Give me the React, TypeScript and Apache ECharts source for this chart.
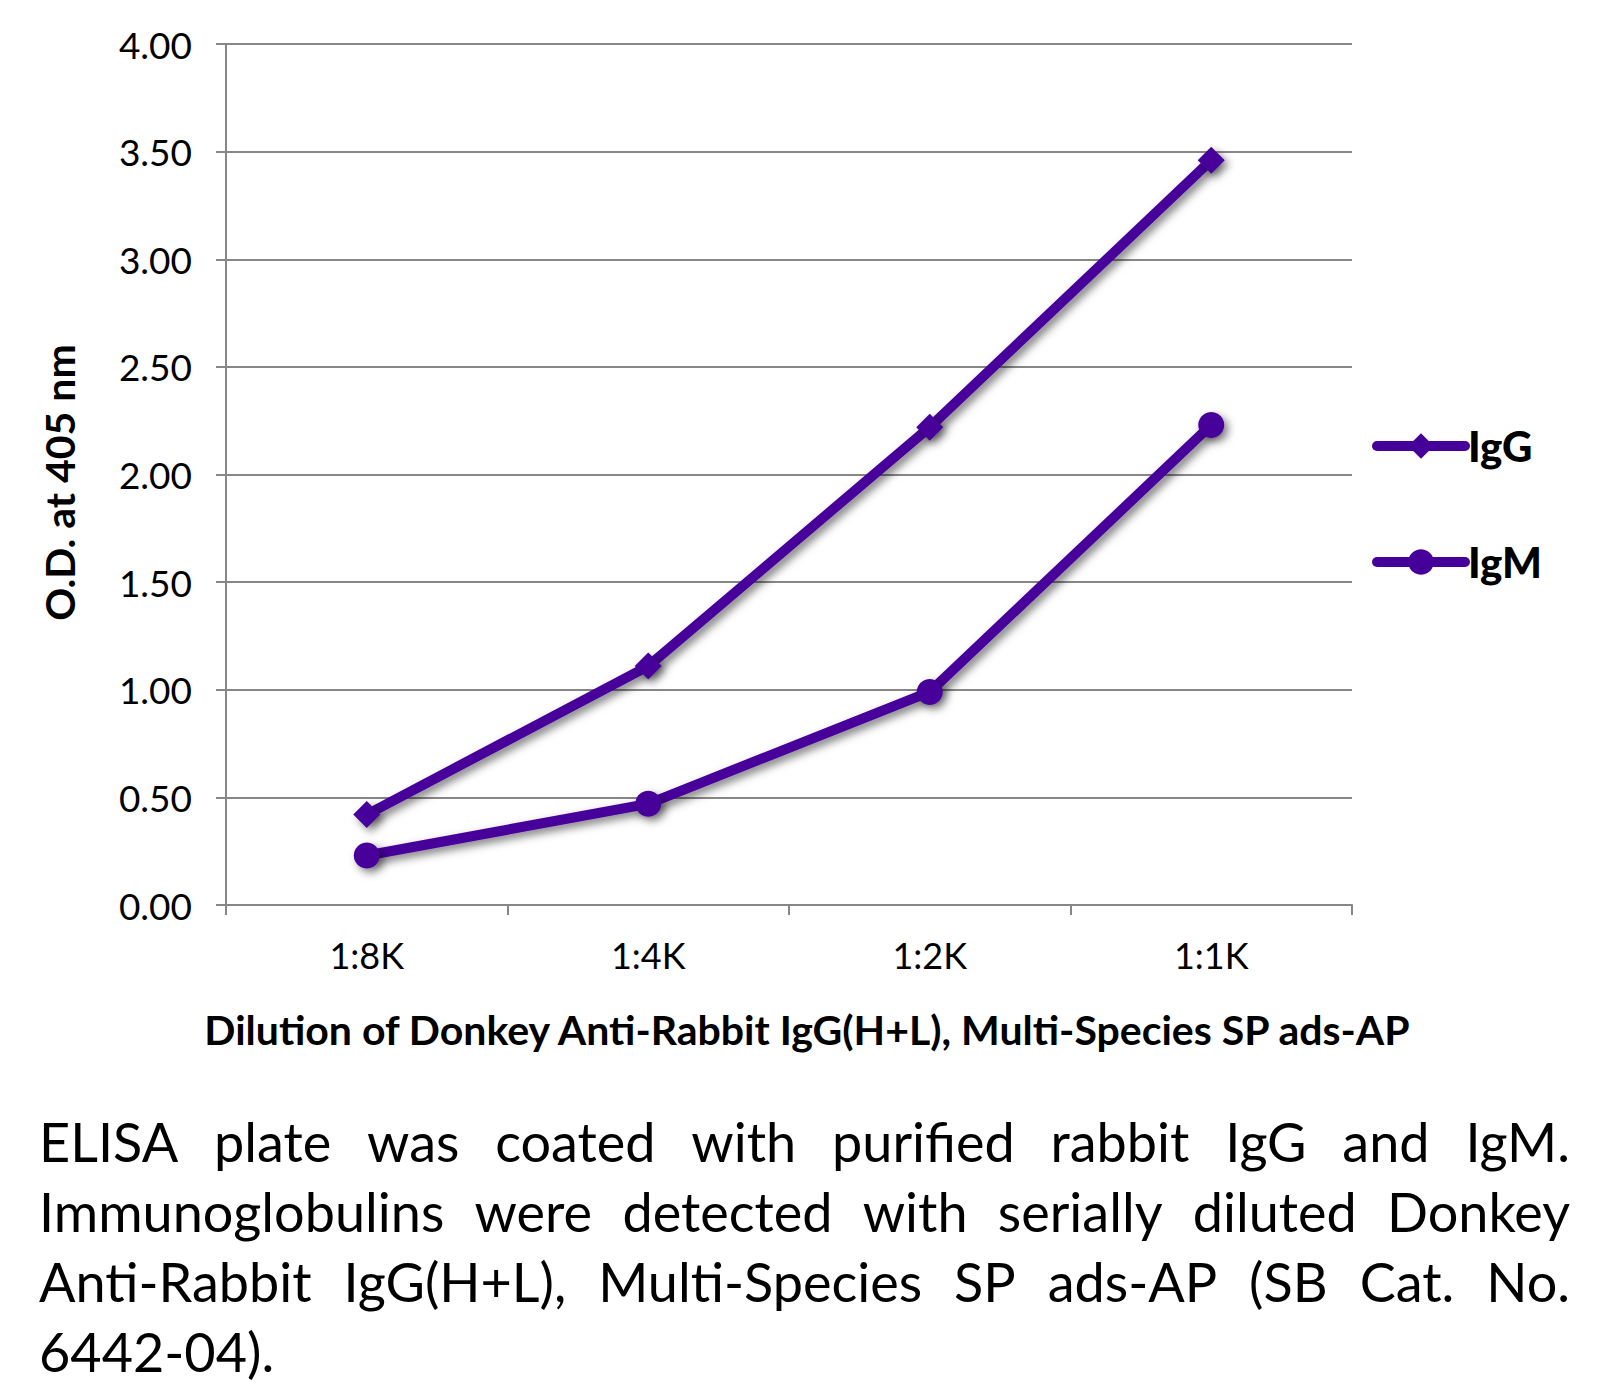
import React, { useEffect, useRef } from "react";
import * as echarts from "echarts";

const categories = ["1:8K", "1:4K", "1:2K", "1:1K"];
const seriesNames = ["IgG", "IgM"];
const igGValues = [0.42, 1.11, 2.22, 3.46];
const igMValues = [0.23, 0.47, 0.99, 2.23];
const yMin = 0;
const yMax = 4;
const yInterval = 0.5;
const xAxisTitle = "Dilution of Donkey Anti-Rabbit IgG(H+L), Multi-Species SP ads-AP";
const yAxisTitle = "O.D. at 405 nm";
const captionLines = [
  "ELISA plate was coated with purified rabbit IgG and IgM.",
  "Immunoglobulins were detected with serially diluted Donkey",
  "Anti-Rabbit IgG(H+L), Multi-Species SP ads-AP (SB Cat. No.",
  "6442-04).",
];

const W = 1620;
const H = 1386;
const PURPLE = "#46009A";
const GRID_GRAY = "#878787";
const FONT = "Lato";

function buildCaption(): any[] {
  const fontSize = 54;
  const left = 39;
  const right = 1570;
  const tops = [1141, 1211, 1281, 1351];
  const canvas = document.createElement("canvas");
  const ctx = canvas.getContext("2d")!;
  ctx.font = `${fontSize}px ${FONT}`;
  const els: any[] = [];
  captionLines.forEach((line, li) => {
    const words = line.split(" ");
    const widths = words.map((w) => ctx.measureText(w).width);
    const total = widths.reduce((a, b) => a + b, 0);
    const justify = li < captionLines.length - 1 && words.length > 1;
    const space = ctx.measureText(" ").width;
    const gap = justify ? (right - left - total) / (words.length - 1) : space;
    let x = left;
    words.forEach((w, wi) => {
      els.push({
        type: "text",
        x,
        y: tops[li],
        style: {
          text: w,
          fontFamily: FONT,
          fontSize,
          fill: "#000",
          textAlign: "left",
          textVerticalAlign: "middle",
        },
      });
      x += widths[wi] + gap;
    });
  });
  return els;
}

export default function App() {
  const ref = useRef<HTMLDivElement>(null);
  useEffect(() => {
    document.body.style.margin = "0";
    const chart = echarts.init(ref.current!, null, { renderer: "svg" });
    const shadow = {
      shadowColor: "rgba(0,0,0,0.5)",
      shadowBlur: 8,
      shadowOffsetX: 4,
      shadowOffsetY: 4,
    };
    chart.setOption({
      animation: false,
      backgroundColor: "#ffffff",
      grid: { left: 226, right: 268, top: 44, bottom: 481, containLabel: false },
      legend: {
        orient: "vertical",
        left: 1367,
        top: 420,
        itemWidth: 88,
        itemHeight: 32,
        itemGap: 74,
        data: seriesNames,
        lineStyle: { width: 10, cap: "round" },
        textStyle: { fontFamily: FONT, fontWeight: 900, fontSize: 42, color: "#000", padding: [0, 0, 0, -2] },
      },
      xAxis: {
        type: "category",
        data: categories,
        boundaryGap: true,
        axisLine: { show: true, lineStyle: { color: GRID_GRAY, width: 2 } },
        axisTick: { show: true, length: 10, lineStyle: { color: GRID_GRAY, width: 2 } },
        axisLabel: { fontFamily: FONT, fontSize: 36, color: "#000", margin: 32 },
        name: xAxisTitle,
        nameLocation: "middle",
        nameGap: 104,
        nameTextStyle: { fontFamily: FONT, fontWeight: "bold", fontSize: 41, color: "#000", padding: [0, 0, 0, 36] },
      },
      yAxis: {
        type: "value",
        min: yMin,
        max: yMax,
        interval: yInterval,
        axisLine: { show: true, lineStyle: { color: GRID_GRAY, width: 2 } },
        axisTick: { show: true, length: 10, lineStyle: { color: GRID_GRAY, width: 2 } },
        splitLine: { show: true, lineStyle: { color: GRID_GRAY, width: 2 } },
        axisLabel: {
          fontFamily: FONT,
          fontSize: 37,
          color: "#000",
          margin: 34,
          formatter: (v: number) => v.toFixed(2),
        },
        name: yAxisTitle,
        nameLocation: "middle",
        nameRotate: 90,
        nameGap: 146,
        nameTextStyle: { fontFamily: FONT, fontWeight: "bold", fontSize: 41, color: "#000", padding: [0, 16, 0, 0] },
      },
      series: [
        {
          name: seriesNames[0],
          type: "line",
          data: igGValues,
          symbol: "diamond",
          symbolSize: 27,
          color: PURPLE,
          lineStyle: { color: PURPLE, width: 10, ...shadow },
          itemStyle: { color: PURPLE, ...shadow },
        },
        {
          name: seriesNames[1],
          type: "line",
          data: igMValues,
          symbol: "circle",
          symbolSize: 26,
          color: PURPLE,
          lineStyle: { color: PURPLE, width: 10, ...shadow },
          itemStyle: { color: PURPLE, ...shadow },
        },
      ],
      graphic: buildCaption(),
    });
    return () => chart.dispose();
  }, []);
  return <div ref={ref} style={{ width: W, height: H }} />;
}
